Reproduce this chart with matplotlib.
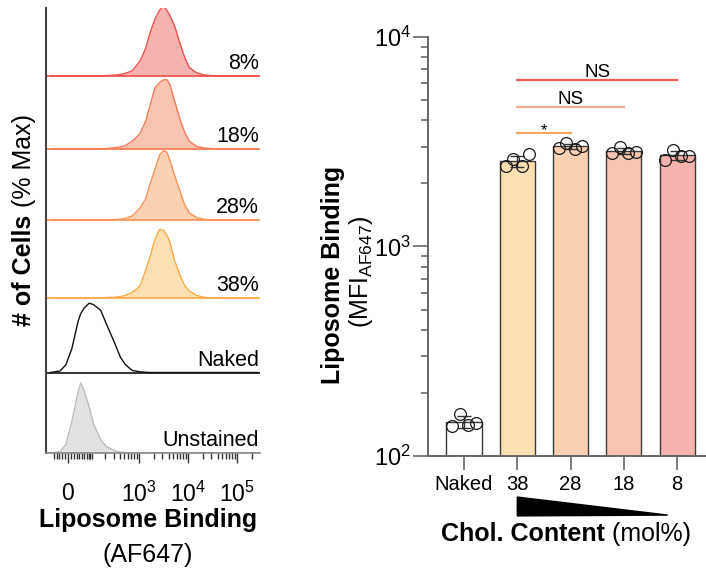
import numpy as np
import matplotlib
matplotlib.use("Agg")
import matplotlib.pyplot as plt
from matplotlib.ticker import NullFormatter
from matplotlib.transforms import blended_transform_factory

plt.rcParams["font.family"] = ["Liberation Sans", "DejaVu Sans"]
plt.rcParams["mathtext.fontset"] = "custom"
plt.rcParams["mathtext.rm"] = "Liberation Sans"
plt.rcParams["mathtext.bf"] = "Liberation Sans:bold"
plt.rcParams["mathtext.it"] = "Liberation Sans:italic"

# ---- flow histograms: % of max on shared bin centres (MFI, AF647) ----
bin_mfi = [-65, -27, -7, 13, 35, 45, 59, 83, 107, 157, 208, 310, 413, 520, 727,
           1041, 1355, 1673, 2098, 2629, 3160, 3685, 4225, 5296, 6887, 8506,
           10650, 14950, 21480, 32350, 54200, 110000, 262000]
hist_unstained = [0, 2, 12, 45, 87, 100, 89, 66, 42, 19, 9.5, 3.4, 1.4, 0.7, 0.1,
                  0, 0, 0, 0, 0, 0, 0, 0, 0, 0, 0, 0, 0, 0, 0, 0, 0, 0]
hist_naked = [0, 2.2, 11, 34, 73, 84, 92, 99, 97, 89, 70, 43, 22, 11.5, 2.9, 1, 0.4,
              0, 0, 0, 0, 0, 0, 0, 0, 0, 0, 0, 0, 0, 0, 0, 0]
hist_38 = [0, 0, 0, 0, 0, 0, 0, 0, 0, 0.3, 0.6, 1.1, 2.2, 3.6, 8, 17, 39, 59, 83, 98,
           97, 90, 81, 54, 32, 18, 10, 3.5, 1.1, 0.1, 0, 0, 0]
hist_28 = [0, 0, 0, 0, 0, 0, 0, 0, 0, 0.1, 0.3, 0.6, 1.2, 2.2, 5.8, 17, 30, 51, 72, 93,
           99, 97, 86, 64, 41, 22, 10, 3.6, 0.9, 0, 0, 0, 0]
hist_18 = [0, 0, 0, 0, 0, 0, 0, 0, 0, 0.4, 0.7, 1.7, 3, 4.9, 11, 22, 39, 62, 87, 95,
           99, 99, 93, 69, 42, 24, 11, 3.8, 1.4, 0.4, 0, 0, 0]
hist_8 = [0, 0, 0, 0, 0, 0, 0, 0, 0, 0.3, 0.5, 1.2, 2.2, 3.7, 7.5, 21, 39, 61, 81, 94,
          100, 94, 87, 72, 46, 27, 12, 4.5, 1.5, 0.3, 0, 0, 0]
hist_names = ["Unstained", "Naked", "38%", "28%", "18%", "8%"]
hist_ticks = [0, 1e3, 1e4, 1e5]
hist_ticklabels = ["0", r"$10^{3}$", r"$10^{4}$", r"$10^{5}$"]
hist_minor = [-50, -40, -30, -20, -10, 10, 20, 30, 40, 50, 60, 70, 80, 90,
              100, 200, 300, 400, 500, 600, 700, 800, 900,
              2000, 3000, 4000, 5000, 6000, 7000, 8000, 9000,
              20000, 30000, 40000, 50000, 60000, 70000, 80000, 90000, 200000]

# ---- bar chart: MFI per replicate ----
groups = ["Naked", "38", "28", "18", "8"]
mfi_naked = [139, 159, 141, 143]
mfi_38 = [2430, 2610, 2430, 2750]
mfi_28 = [2940, 3130, 2920, 3020]
mfi_18 = [2800, 3000, 2800, 2820]
mfi_8 = [2590, 2890, 2700, 2710]
comparisons = [(1, 2, "*"), (1, 3, "NS"), (1, 4, "NS")]
sig_heights = [3480, 4630, 6230]

# styling
line_cols = ["#bdbdbd", "#111111", "#f8ab48", "#f59458", "#f27a56", "#ec4f4c"]
fill_cols = ["#e2e2e2", None, "#fde0b2", "#fbd1b2", "#f8c4b0", "#f5b2af"]
bar_cols = ["white", "#fde0b2", "#fbd1b2", "#f8c4b0", "#f5b2af"]
sig_cols = ["#f7a862", "#f5ab92", "#ee5b57"]
row_base = [0, 80.5, 155, 233, 304, 377]  # px above bottom spine
peak_px = 70
jitter = [-0.22, -0.08, 0.08, 0.22]

W, H = 706, 571
fig = plt.figure(figsize=(W / 100, H / 100), dpi=100)
renderer = fig.canvas.get_renderer()


def box(x0, y0, x1, y1):
    return [x0 / W, 1 - y1 / H, (x1 - x0) / W, (y1 - y0) / H]


def mixed_label(xc, yc, bold, regular, vertical=False, size=18):
    # bold part followed by regular part, centred on (xc, yc); yc = baseline (px from top)
    kw = dict(fontsize=size, ha="left", va="baseline", rotation_mode="anchor",
              rotation=90 if vertical else 0, transform=None)
    t1 = fig.text(0, 0, bold, fontweight="bold", **kw)
    t2 = fig.text(0, 0, regular, **kw)
    e1, e2 = t1.get_window_extent(renderer), t2.get_window_extent(renderer)
    if vertical:
        w1, w2 = e1.height, e2.height
        y0 = (H - yc) - (w1 + w2) / 2
        t1.set_position((xc, y0))
        t2.set_position((xc, y0 + w1))
    else:
        w1, w2 = e1.width, e2.width
        x0 = xc - (w1 + w2) / 2
        t1.set_position((x0, H - yc))
        t2.set_position((x0 + w1, H - yc))


# ---------------- left: stacked histograms ----------------
ax1 = fig.add_axes(box(46, 8, 260, 453))
ax1.set_xscale("asinh", linear_width=71)
ax1.set_xlim(-87, 294000)
ax1.set_ylim(0, 445)
hists = [hist_unstained, hist_naked, hist_38, hist_28, hist_18, hist_8]
lbl_tr = blended_transform_factory(ax1.transAxes, ax1.transData)
for name, h, base, lc, fc in zip(hist_names, hists, row_base, line_cols, fill_cols):
    y = base + np.asarray(h) / 100 * peak_px
    if fc is not None:
        ax1.fill_between(bin_mfi, base, y, color=fc, lw=0)
    ax1.plot(bin_mfi, y, color=lc, lw=1)
    ax1.axhline(base, color=lc, lw=1.2)
    ax1.text(0.995, base + 2, name, transform=lbl_tr, ha="right", va="bottom",
             fontsize=15.5)

ax1.set_xticks(hist_ticks, labels=hist_ticklabels)
ax1.set_xticks(hist_minor, minor=True)
ax1.xaxis.set_minor_formatter(NullFormatter())
ax1.tick_params(axis="x", which="major", length=7, width=1, pad=14, labelsize=16.5,
                color="#333333")
ax1.tick_params(axis="x", which="minor", length=4, width=1, color="#333333")
ax1.set_yticks([])
for s in ["top", "right"]:
    ax1.spines[s].set_visible(False)
ax1.spines["left"].set_color("#444444")
ax1.spines["left"].set_linewidth(1.5)
ax1.spines["bottom"].set_color("#888888")
ax1.spines["bottom"].set_linewidth(1.2)

mixed_label(31, 220, "# of Cells", " (% Max)", vertical=True)
fig.text(148 / W, 1 - 520 / H, "Liposome Binding", ha="center", va="center",
         fontsize=18, fontweight="bold")
fig.text(148 / W, 1 - 555 / H, "(AF647)", ha="center", va="center", fontsize=18)

# ---------------- right: bar chart ----------------
ax2 = fig.add_axes(box(428, 37, 706, 456))
vals = [mfi_naked, mfi_38, mfi_28, mfi_18, mfi_8]
x = np.arange(len(groups))
means = [np.mean(v) for v in vals]
sds = [np.std(v, ddof=1) for v in vals]
ax2.bar(x, means, width=0.66, color=bar_cols, edgecolor="#3a3a3a", lw=1, zorder=1)
ax2.errorbar(x, means, yerr=sds, fmt="none", ecolor="#333333", elinewidth=1,
             capsize=5, capthick=1, zorder=2)
for xi, v in zip(x, vals):
    ax2.plot(xi + np.array(jitter), v, "o", mfc="none", mec="#1a1a1a", ms=8.5,
             mew=0.9, zorder=3)

for (i, j, lab), yv, c in zip(comparisons, sig_heights, sig_cols):
    ax2.plot([x[i], x[j]], [yv, yv], color=c, lw=1.6, zorder=2)
    star = lab == "*"
    ax2.annotate(lab, xy=((x[i] + x[j]) / 2, yv), xytext=(0, -1.2 if star else 2.4),
                 textcoords="offset points", ha="center", va="baseline",
                 fontsize=12 if star else 13.5)

ax2.set_yscale("log")
ax2.set_ylim(100, 10000)
ax2.set_xlim(-0.675, 4.54)
ax2.set_yticks([100, 1000, 10000], labels=[r"$10^{2}$", r"$10^{3}$", r"$10^{4}$"])
ax2.set_xticks(x, labels=groups)
ax2.tick_params(axis="y", which="major", length=11, width=1.2, pad=1, labelsize=17,
                color="#666666")
ax2.tick_params(axis="y", which="minor", length=5, width=1.2, color="#666666")
ax2.tick_params(axis="x", length=10, width=1.2, pad=4, labelsize=14.5, color="#666666")
for s in ["top", "right"]:
    ax2.spines[s].set_visible(False)
for s in ["left", "bottom"]:
    ax2.spines[s].set_color("#666666")
    ax2.spines[s].set_linewidth(1.4)

# decreasing cholesterol wedge below the tick labels
wedge_tr = blended_transform_factory(ax2.transData, ax2.transAxes)
ax2.fill([x[1], x[1], 3.82], [-0.098, -0.143, -0.141], color="black",
         transform=wedge_tr, clip_on=False)

fig.text(333 / W, 1 - 275 / H, "Liposome Binding", rotation=90, ha="center",
         va="center", fontsize=18, fontweight="bold")
fig.text(361 / W, 1 - 272 / H, r"(MFI$_{\rm AF647}$)", rotation=90, ha="center",
         va="center", fontsize=18)
mixed_label(566, 541, "Chol. Content", " (mol%)")

fig.savefig("out.png", dpi=100)
